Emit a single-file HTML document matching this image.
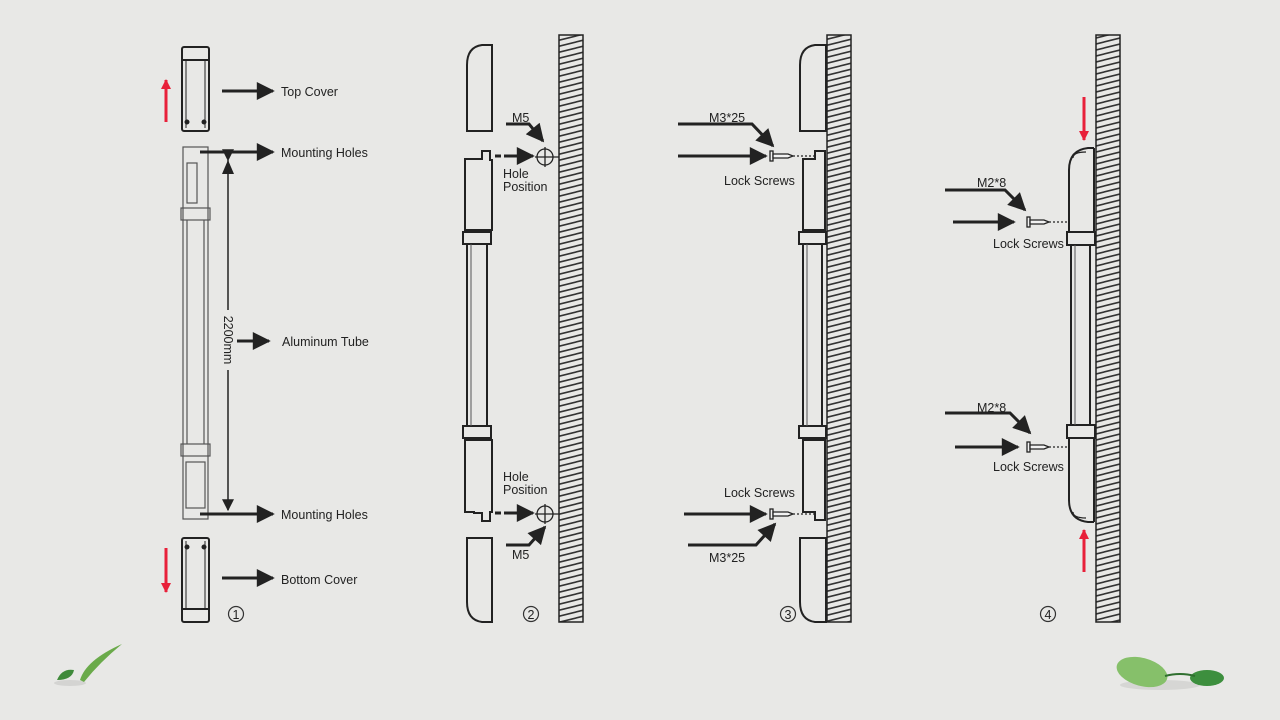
<!DOCTYPE html>
<html><head><meta charset="utf-8"><style>
html,body{margin:0;padding:0;background:#e8e8e6}
svg{display:block}
text{font-family:"Liberation Sans",sans-serif;font-size:12.5px;fill:#222}
</style></head><body>
<svg width="1280" height="720" viewBox="0 0 1280 720" xmlns="http://www.w3.org/2000/svg">
<defs>
<marker id="ah" viewBox="0 0 10 10" refX="9" refY="5" markerWidth="22" markerHeight="18" markerUnits="userSpaceOnUse" orient="auto"><path d="M0,0 L10,5 L0,10 z" fill="#222"/></marker>
<marker id="ahs" viewBox="0 0 10 10" refX="9" refY="5" markerWidth="14" markerHeight="12" markerUnits="userSpaceOnUse" orient="auto"><path d="M0,0 L10,5 L0,10 z" fill="#222"/></marker>
<marker id="rh" viewBox="0 0 10 10" refX="9" refY="5" markerWidth="14" markerHeight="10" markerUnits="userSpaceOnUse" orient="auto"><path d="M0,0 L10,5 L0,10 z" fill="#e8203a"/></marker>
<pattern id="hatch" width="24" height="6" patternUnits="userSpaceOnUse"><path d="M0,6 L24,0" stroke="#333" stroke-width="1.6"/><path d="M-24,6 L0,0 M24,6 L48,0 M0,12 L24,6 M0,0 L24,-6" stroke="#333" stroke-width="1.6"/></pattern>
</defs>
<rect width="1280" height="720" fill="#e8e8e6"/>

<!-- walls -->
<g stroke="#222" stroke-width="1.5">
<rect x="559" y="35" width="24" height="587" fill="url(#hatch)"/>
<rect x="827" y="35" width="24" height="587" fill="url(#hatch)"/>
<rect x="1096" y="35" width="24" height="587" fill="url(#hatch)"/>
</g>

<!-- STEP 1 -->
<g fill="none" stroke="#222" stroke-width="2">
<rect x="182" y="47" width="27" height="84" rx="2"/>
<line x1="182" y1="60" x2="209" y2="60"/>
<line x1="186" y1="60" x2="186" y2="128" stroke-width="1"/><line x1="205" y1="60" x2="205" y2="128" stroke-width="1"/>
<rect x="182" y="538" width="27" height="84" rx="2"/>
<line x1="182" y1="609" x2="209" y2="609"/>
<line x1="186" y1="541" x2="186" y2="609" stroke-width="1"/><line x1="205" y1="541" x2="205" y2="609" stroke-width="1"/>
</g>
<g fill="#222"><circle cx="187" cy="122" r="2.5"/><circle cx="204" cy="122" r="2.5"/><circle cx="187" cy="547" r="2.5"/><circle cx="204" cy="547" r="2.5"/></g>
<g fill="none" stroke="#555" stroke-width="1.2">
<rect x="183" y="147" width="25" height="372"/>
<rect x="181" y="208" width="29" height="12"/>
<rect x="181" y="444" width="29" height="12"/>
<line x1="187" y1="220" x2="187" y2="444"/><line x1="204" y1="220" x2="204" y2="444"/>
<rect x="187" y="163" width="10" height="40"/>
<rect x="186" y="462" width="19" height="46"/>
</g>
<line x1="228" y1="160" x2="228" y2="310" stroke="#222" stroke-width="1.5" marker-start="url(#ahs)"/>
<line x1="228" y1="370" x2="228" y2="510" stroke="#222" stroke-width="1.5" marker-end="url(#ahs)"/>
<path d="M228,160 l-6,14 h12z" fill="#222"/>
<text transform="translate(224,340) rotate(90)" text-anchor="middle" font-size="11">2200mm</text>
<g stroke="#222" stroke-width="3" marker-end="url(#ah)">
<line x1="222" y1="91" x2="273" y2="91"/>
<line x1="200" y1="152" x2="273" y2="152"/>
<line x1="237" y1="341" x2="269" y2="341"/>
<line x1="200" y1="514" x2="273" y2="514"/>
<line x1="222" y1="578" x2="273" y2="578"/>
</g>
<g stroke="#e8203a" stroke-width="3">
<line x1="166" y1="122" x2="166" y2="80" marker-end="url(#rh)"/>
<line x1="166" y1="548" x2="166" y2="592" marker-end="url(#rh)"/>
</g>
<text x="281" y="96">Top Cover</text>
<text x="281" y="157">Mounting Holes</text>
<text x="282" y="346">Aluminum Tube</text>
<text x="281" y="519">Mounting Holes</text>
<text x="281" y="584">Bottom Cover</text>
<circle cx="236" cy="614" r="7.5" fill="none" stroke="#333" stroke-width="1.2"/><text x="236" y="619" text-anchor="middle" font-size="12">1</text>

<!-- STEP 2 -->
<g fill="none" stroke="#222" stroke-width="2">
<path d="M492,131 V45 H482 Q467,47 467,65 V131 Z"/>
<path d="M492,538 V622 H482 Q467,620 467,602 V538 Z"/>
<path d="M474,159 H482 V151 H490 V160 H492 V230 H465 V159 Z"/>
<rect x="463" y="232" width="28" height="12"/>
<line x1="467" y1="244" x2="467" y2="426"/><line x1="487" y1="244" x2="487" y2="426"/>
<rect x="463" y="426" width="28" height="12"/>
<path d="M465,440 H492 V512 H490 V521 H482 V513 H474 V512 H465 Z"/>
</g>
<line x1="471" y1="244" x2="471" y2="426" stroke="#555" stroke-width="1"/>
<g stroke="#222" stroke-width="3" stroke-dasharray="6,3"><line x1="495" y1="156" x2="515" y2="156"/><line x1="495" y1="513" x2="515" y2="513"/></g>
<g stroke="#222" stroke-width="3" marker-end="url(#ah)"><line x1="510" y1="156" x2="533" y2="156"/><line x1="510" y1="513" x2="533" y2="513"/>
<path d="M506,124 H529 L543,141" fill="none"/><path d="M506,545 H529 L545,527" fill="none"/></g>
<g fill="none" stroke="#222" stroke-width="1.3"><circle cx="545" cy="157" r="8"/><line x1="535" y1="157" x2="559" y2="157"/><line x1="545" y1="147" x2="545" y2="167"/>
<circle cx="545" cy="514" r="8"/><line x1="535" y1="514" x2="559" y2="514"/><line x1="545" y1="504" x2="545" y2="524"/></g>
<text x="512" y="122">M5</text>
<text x="503" y="178">Hole</text><text x="503" y="191">Position</text>
<text x="503" y="481">Hole</text><text x="503" y="494">Position</text>
<text x="512" y="559">M5</text>
<circle cx="531" cy="614" r="7.5" fill="none" stroke="#333" stroke-width="1.2"/><text x="531" y="619" text-anchor="middle" font-size="12">2</text>

<!-- STEP 3 -->
<g fill="none" stroke="#222" stroke-width="2">
<path d="M826,131 V45 H815 Q800,47 800,65 V131 Z"/>
<path d="M826,538 V622 H815 Q800,620 800,602 V538 Z"/>
<path d="M803,159 H815 V151 H825 V230 H803 Z"/>
<rect x="799" y="232" width="27" height="12"/>
<line x1="803" y1="244" x2="803" y2="426"/><line x1="822" y1="244" x2="822" y2="426"/>
<rect x="799" y="426" width="27" height="12"/>
<path d="M803,440 H825 V520 H815 V512 H803 Z"/>
</g>
<line x1="807" y1="244" x2="807" y2="426" stroke="#555" stroke-width="1"/>
<g stroke="#222" stroke-width="3" marker-end="url(#ah)">
<line x1="678" y1="156" x2="766" y2="156"/><path d="M678,124 H752 L773,146" fill="none"/>
<line x1="684" y1="514" x2="766" y2="514"/><path d="M688,545 H756 L775,524" fill="none"/>
</g>
<g stroke="#222" stroke-width="1.3" fill="#f2f2f2">
<rect x="770" y="151" width="3" height="10"/><path d="M773,154 H788 L793,156 L788,158 H773 Z"/>
<rect x="770" y="509" width="3" height="10"/><path d="M773,512 H788 L793,514 L788,516 H773 Z"/>
</g>
<g stroke="#222" stroke-width="1.3" stroke-dasharray="2,2"><line x1="793" y1="156" x2="815" y2="156"/><line x1="793" y1="514" x2="815" y2="514"/></g>
<text x="709" y="122">M3*25</text>
<text x="724" y="185">Lock Screws</text>
<text x="724" y="497">Lock Screws</text>
<text x="709" y="562">M3*25</text>
<circle cx="788" cy="614" r="7.5" fill="none" stroke="#333" stroke-width="1.2"/><text x="788" y="619" text-anchor="middle" font-size="12">3</text>

<!-- STEP 4 -->
<g fill="none" stroke="#222" stroke-width="2">
<path d="M1094,148 H1088 Q1069,150 1069,170 V232 H1094"/>
<path d="M1094,148 V232"/>
<rect x="1067" y="232" width="28" height="13"/>
<line x1="1071" y1="245" x2="1071" y2="425"/><line x1="1090" y1="245" x2="1090" y2="425"/>
<rect x="1067" y="425" width="28" height="13"/>
<path d="M1094,522 H1088 Q1069,520 1069,500 V438"/>
<path d="M1094,438 V522"/>
</g>
<path d="M1073,158 Q1073,152 1086,152" fill="none" stroke="#222" stroke-width="1.2"/>
<path d="M1073,512 Q1073,518 1086,518" fill="none" stroke="#222" stroke-width="1.2"/>
<line x1="1075" y1="245" x2="1075" y2="425" stroke="#555" stroke-width="1"/>
<g stroke="#222" stroke-width="3" marker-end="url(#ah)">
<path d="M945,190 H1005 L1025,210" fill="none"/><line x1="953" y1="222" x2="1014" y2="222"/>
<path d="M945,413 H1010 L1030,433" fill="none"/><line x1="955" y1="447" x2="1018" y2="447"/>
</g>
<g stroke="#222" stroke-width="1.3" fill="#f2f2f2">
<rect x="1027" y="217" width="3" height="10"/><path d="M1030,220 H1044 L1049,222 L1044,224 H1030 Z"/>
<rect x="1027" y="442" width="3" height="10"/><path d="M1030,445 H1044 L1049,447 L1044,449 H1030 Z"/>
</g>
<g stroke="#222" stroke-width="1.3" stroke-dasharray="2,2"><line x1="1049" y1="222" x2="1069" y2="222"/><line x1="1049" y1="447" x2="1069" y2="447"/></g>
<g stroke="#e8203a" stroke-width="3">
<line x1="1084" y1="97" x2="1084" y2="140" marker-end="url(#rh)"/>
<line x1="1084" y1="572" x2="1084" y2="530" marker-end="url(#rh)"/>
</g>
<text x="977" y="187">M2*8</text>
<text x="993" y="248">Lock Screws</text>
<text x="977" y="412">M2*8</text>
<text x="993" y="471">Lock Screws</text>
<circle cx="1048" cy="614" r="7.5" fill="none" stroke="#333" stroke-width="1.2"/><text x="1048" y="619" text-anchor="middle" font-size="12">4</text>

<!-- leaves -->
<ellipse cx="70" cy="683" rx="16" ry="3" fill="#d4d4d2"/>
<path d="M57,680 Q62,668 74,670 Q72,680 57,680 Z" fill="#3f8a3a"/>
<path d="M80,680 Q86,660 122,644 Q100,662 84,682 Z" fill="#6aaa4a"/>
<ellipse cx="1160" cy="685" rx="40" ry="5" fill="#d6d6d4"/>
<ellipse cx="1142" cy="672" rx="26" ry="14" transform="rotate(15 1142 672)" fill="#86c06a"/>
<ellipse cx="1207" cy="678" rx="17" ry="8" fill="#3d8f3e"/>
<path d="M1165,676 Q1180,672 1195,676" stroke="#2f6f2f" stroke-width="2" fill="none"/>
</svg>
</body></html>
